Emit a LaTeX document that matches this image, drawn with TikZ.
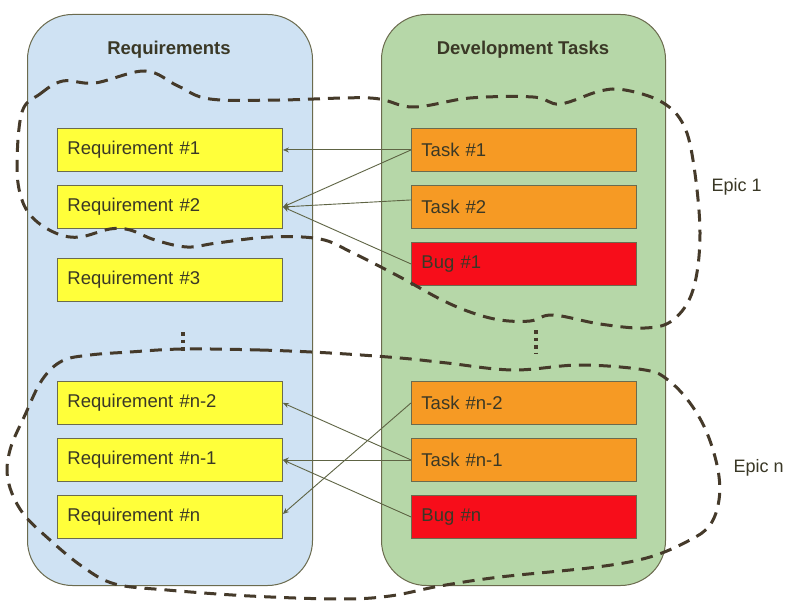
\documentclass[tikz,border=0pt]{standalone}
\usepackage{fontspec}
\setmainfont{Liberation Sans}
\usetikzlibrary{arrows.meta}
\definecolor{reqfill}{HTML}{CFE2F3}
\definecolor{devfill}{HTML}{B6D7A8}
\definecolor{colborder}{HTML}{6B6B4E}
\definecolor{yellowbox}{HTML}{FFFF3A}
\definecolor{orangebox}{HTML}{F69A24}
\definecolor{redbox}{HTML}{F70D1A}
\definecolor{textdark}{HTML}{3A3826}
\definecolor{linkcol}{HTML}{5E6444}
\definecolor{dashcol}{HTML}{453A2A}
\tikzset{
  colbox/.style={draw=colborder, line width=1pt, rounded corners=45pt, anchor=north west, minimum width=285pt, minimum height=571pt, inner sep=0pt},
  coltitle/.style={font=\fontsize{18.5}{20}\selectfont\bfseries, text=textdark},
  itembox/.style={draw=colborder, line width=0.9pt, anchor=north west, text width=205pt, inner xsep=10pt, inner ysep=0pt, minimum height=43pt, align=left, font=\fontsize{18.5}{20}\selectfont, text=textdark},
  reqbox/.style={itembox, fill=yellowbox},
  taskbox/.style={itembox, fill=orangebox},
  bugbox/.style={itembox, fill=redbox},
  link/.style={draw=linkcol, line width=0.9pt, -{Stealth[length=6pt,width=5pt]}},
  epic/.style={draw=dashcol, line width=3pt, dash pattern=on 12pt off 8pt},
  dotline/.style={draw=dashcol, line width=3.5pt, dash pattern=on 3.5pt off 4pt},
  epiclabel/.style={anchor=west, font=\fontsize{18}{20}\selectfont, text=textdark}
}
\begin{document}
\begin{tikzpicture}[x=1pt,y=-1pt]
\useasboundingbox (0,0) rectangle (800,612);
\fill[white] (0,0) rectangle (800,612);
% columns
\node[colbox, fill=reqfill] (reqcol) at (27,14) {};
\node[colbox, fill=devfill, minimum width=284pt] (devcol) at (381,14) {};
\node[coltitle] (reqtitle) at (169,50) {Requirements};
\node[coltitle] (devtitle) at (523,50) {Development Tasks};
% requirement boxes
\node[reqbox] (r1) at (57,128) {Requirement \#1};
\node[reqbox] (r2) at (57,185) {Requirement \#2};
\node[reqbox] (r3) at (57,258) {Requirement \#3};
\node[reqbox] (rn2) at (57,381) {Requirement \#n-2};
\node[reqbox] (rn1) at (57,438) {Requirement \#n-1};
\node[reqbox] (rn) at (57,495) {Requirement \#n};
% task boxes
\node[taskbox] (t1) at (411,128) {Task \#1};
\node[taskbox] (t2) at (411,185) {Task \#2};
\node[bugbox] (b1) at (411,242) {Bug \#1};
\node[taskbox] (tn2) at (411,381) {Task \#n-2};
\node[taskbox] (tn1) at (411,438) {Task \#n-1};
\node[bugbox] (bn) at (411,495) {Bug \#n};
% links
\draw[link] (t1.west) -- (r1.east);
\draw[link] (t1.west) -- (r2.east);
\draw[link] ([yshift=7pt]t2.west) -- (r2.east);
\draw[link] (b1.west) -- (r2.east);
\draw[link] (tn2.west) -- ([yshift=3pt]rn.east);
\draw[link] (tn1.west) -- (rn2.east);
\draw[link] (tn1.west) -- (rn1.east);
\draw[link] (bn.west) -- (rn1.east);
% vertical dots
\draw[dotline] (183,332) -- (183,354);
\draw[dotline] (536,330) -- (536,354);
% epic 1
\draw[epic] plot[smooth cycle, tension=0.6] coordinates {
 (22,112) (40,94) (63,81) (95,83) (145,71) (178,86) (210,99)
 (280,100) (370,98) (413,107) (470,98) (533,97) (560,104)
 (600,91) (625,90) (660,101) (682,122) (693,160)
 (700,233) (693,290) (673,320) (645,328) (600,324) (553,315)
 (530,321) (500,320) (470,312) (440,299) (400,277)
 (353,253) (320,239) (270,237) (217,243) (187,247) (155,240) (130,230)
 (110,229) (80,237) (58,234) (35,220) (22,200) (17,167)};
% epic n
\draw[epic] plot[smooth cycle, tension=0.6] coordinates {
 (183,349) (260,350) (330,353) (400,358) (447,363) (513,370)
 (580,365) (645,370) (668,380) (690,403)
 (707,433) (718,470) (719,500) (710,525) (690,540) (650,557)
 (597,567) (500,577) (440,586) (390,596) (340,599)
 (250,596) (167,590) (115,584) (83,567) (50,540)
 (22,512) (8,480) (10,450) (25,415) (42,380) (62,361) (90,355) (130,352)};
% epic labels
\node[epiclabel] (epic1) at (708,187) {Epic 1};
\node[epiclabel] (epicn) at (730,468) {Epic n};
\end{tikzpicture}
\end{document}
